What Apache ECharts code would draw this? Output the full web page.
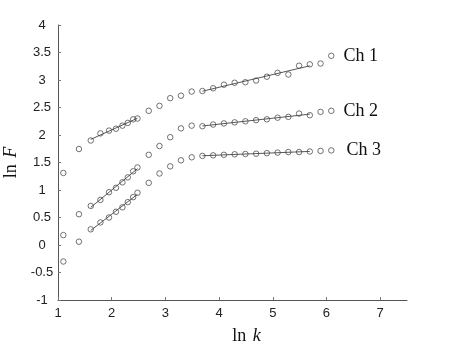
<!DOCTYPE html>
<html><head><meta charset="utf-8">
<script src="https://cdn.jsdelivr.net/npm/echarts@6/dist/echarts.min.js"></script>
<style>html,body{margin:0;padding:0;background:#fff}#c{width:450px;height:346px}</style>
</head><body><div id="c"></div>
<script>
// ln k values (x)
const lnK = [1.10, 1.39, 1.61, 1.79, 1.95, 2.08, 2.20, 2.30, 2.40, 2.48,
             2.69, 2.89, 3.09, 3.29, 3.49, 3.69, 3.89, 4.09, 4.29, 4.49,
             4.69, 4.89, 5.09, 5.29, 5.49, 5.69, 5.89, 6.09];
// ln F values per channel
const ch1 = [1.31, 1.745, 1.90, 2.03, 2.08, 2.115, 2.17, 2.22, 2.285, 2.30,
             2.44, 2.53, 2.67, 2.715, 2.79, 2.80, 2.85, 2.915, 2.95, 2.96,
             2.99, 3.06, 3.13, 3.10, 3.26, 3.285, 3.30, 3.44];
const ch2 = [0.18, 0.56, 0.71, 0.82, 0.96, 1.04, 1.14, 1.23, 1.34, 1.41,
             1.64, 1.80, 1.96, 2.12, 2.17, 2.16, 2.19, 2.21, 2.23, 2.25,
             2.27, 2.285, 2.315, 2.33, 2.39, 2.36, 2.42, 2.44];
const ch3 = [-0.30, 0.06, 0.285, 0.41, 0.50, 0.605, 0.685, 0.78, 0.87, 0.95,
             1.13, 1.30, 1.43, 1.54, 1.595, 1.62, 1.63, 1.64, 1.65, 1.655,
             1.66, 1.67, 1.68, 1.69, 1.69, 1.70, 1.71, 1.72];
const channelNames = ['Ch 1', 'Ch 2', 'Ch 3'];
// index ranges used for the straight-line fits
const fitRanges = [[2, 9], [15, 25]];
const xTickLabels = [1, 2, 3, 4, 5, 6, 7];
const yTickLabels = [-1, -0.5, 0, 0.5, 1, 1.5, 2, 2.5, 3, 3.5, 4];

const channels = [ch1, ch2, ch3];
function fitLine(ys, a, b) {
  let n = 0, sx = 0, sy = 0, sxx = 0, sxy = 0;
  for (let i = a; i <= b; i++) {
    n++; sx += lnK[i]; sy += ys[i]; sxx += lnK[i] * lnK[i]; sxy += lnK[i] * ys[i];
  }
  const m = (n * sxy - sx * sy) / (n * sxx - sx * sx);
  const c = (sy - m * sx) / n;
  return [[lnK[a], m * lnK[a] + c], [lnK[b], m * lnK[b] + c]];
}

const labelDist = [9, 9, 12];
const series = [];
channels.forEach((ys, ci) => {
  const last = ys.length - 1;
  fitRanges.forEach(([a, b]) => {
    series.push({
      type: 'line',
      data: fitLine(ys, a, b),
      showSymbol: false,
      symbol: 'none',
      lineStyle: { color: '#444', width: 0.9, type: 'solid' },
      emphasis: { disabled: true },
      z: 2
    });
  });
  series.push({
    type: 'scatter',
    name: channelNames[ci],
    data: ys.map((y, i) => [lnK[i], y]),
    symbol: 'circle',
    symbolSize: 5.5,
    itemStyle: { color: 'rgba(255,255,255,0)', borderColor: '#444', borderWidth: 0.75, opacity: 1 },
    label: {
      show: true,
      position: 'right',
      distance: labelDist[ci],
      formatter: p => (p.dataIndex === last ? channelNames[ci] : ''),
      fontFamily: 'Liberation Serif',
      fontSize: 18,
      color: '#111'
    },
    emphasis: { disabled: true },
    z: 3
  });
});

const chart = echarts.init(document.getElementById('c'), null, { renderer: 'canvas' });
chart.setOption({
  animation: false,
  backgroundColor: '#fff',
  grid: { left: 58, top: 25, right: 43, bottom: 46, containLabel: false, outerBoundsMode: 'none' },
  xAxis: {
    type: 'value', min: 1, max: 7.5, interval: 1,
    axisLine: { onZero: false, lineStyle: { color: '#555', width: 1 } },
    axisTick: { inside: true, length: 3, lineStyle: { color: '#777' }, customValues: xTickLabels },
    axisLabel: { customValues: xTickLabels, margin: 7, fontFamily: 'Liberation Sans', fontSize: 13, color: '#222' },
    splitLine: { show: false },
    name: '{a|ln}  {b|k}',
    nameLocation: 'middle',
    nameGap: 27,
    nameTextStyle: {
      padding: [0, 0, 0, 28],
      rich: {
        a: { fontFamily: 'Liberation Serif', fontSize: 18, color: '#111' },
        b: { fontFamily: 'Liberation Serif', fontSize: 18, fontStyle: 'italic', color: '#111' }
      }
    }
  },
  yAxis: {
    type: 'value', min: -1, max: 4, interval: 0.5,
    axisLine: { show: true, lineStyle: { color: '#555', width: 1 } },
    axisTick: { show: true, inside: true, length: 3, lineStyle: { color: '#777' } },
    axisLabel: { margin: 16, align: 'center', fontFamily: 'Liberation Sans', fontSize: 13, color: '#222' },
    splitLine: { show: false },
    name: '{a|ln}  {b|F}',
    nameLocation: 'middle',
    nameGap: 29,
    nameRotate: 90,
    nameTextStyle: {
      rich: {
        a: { fontFamily: 'Liberation Serif', fontSize: 18, color: '#111' },
        b: { fontFamily: 'Liberation Serif', fontSize: 18, fontStyle: 'italic', color: '#111' }
      }
    }
  },
  series: series
});
</script>
</body></html>
